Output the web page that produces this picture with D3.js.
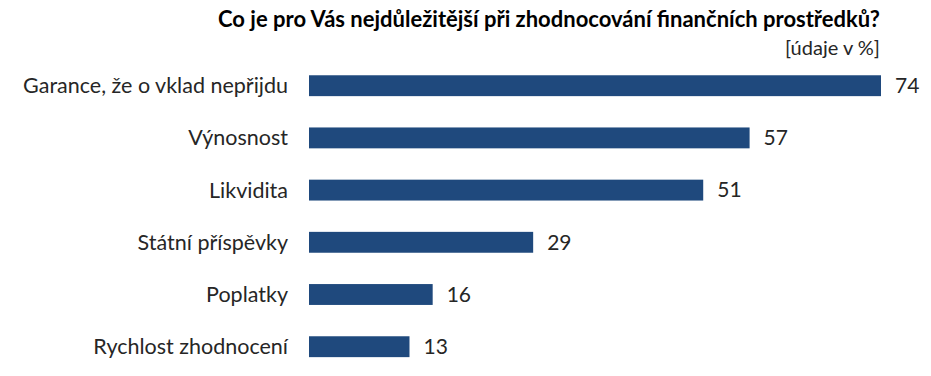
<!DOCTYPE html>
<html>
<head>
<meta charset="utf-8">
<script src="https://d3js.org/d3.v7.min.js"></script>
<style>
  body { margin: 0; background: #fff; }
  text { font-family: Lato, "Open Sans", sans-serif; }
</style>
</head>
<body>
<div id="chart"></div>
<script>
// chart data
var categories = ["Garance, že o vklad nepřijdu", "Výnosnost", "Likvidita",
                  "Státní příspěvky", "Poplatky", "Rychlost zhodnocení"];
var values = [74, 57, 51, 29, 16, 13];
var title = "Co je pro Vás nejdůležitější při zhodnocování finančních prostředků?";
var unitNote = "[údaje v %]";

var w = 931, h = 376;

var svg = d3.select("#chart")
  .append("svg")
  .attr("width", w)
  .attr("height", h);

// x scale: bar start at 309, 74 ends near 881
var x = d3.scaleLinear()
  .domain([0, 74])
  .range([309, 881]);

// y band: centers from ~85.7 to ~346.7
var y = d3.scaleBand()
  .domain(categories)
  .range([59.6, 372.8])
  .paddingInner(0.6)
  .paddingOuter(0.3);

// title
svg.append("text")
  .attr("x", 880)
  .attr("y", 27)
  .attr("text-anchor", "end")
  .attr("font-size", "22px")
  .attr("font-weight", "bold")
  .attr("fill", "#000")
  .text(title);

svg.append("text")
  .attr("x", 880)
  .attr("y", 55)
  .attr("text-anchor", "end")
  .attr("font-size", "20px")
  .attr("fill", "#262626")
  .text(unitNote);

var data = categories.map(function(c, i) { return { cat: c, val: values[i] }; });

// bars
svg.selectAll(".bar")
  .data(data)
  .enter()
  .append("rect")
  .attr("class", "bar")
  .attr("x", x(0))
  .attr("y", function(d) { return y(d.cat); })
  .attr("width", function(d) { return x(d.val) - x(0); })
  .attr("height", y.bandwidth())
  .attr("fill", "#1F497D");

// category labels
svg.selectAll(".cat")
  .data(data)
  .enter()
  .append("text")
  .attr("class", "cat")
  .attr("x", 288)
  .attr("y", function(d) { return y(d.cat) + y.bandwidth() / 2; })
  .attr("dy", ".35em")
  .attr("text-anchor", "end")
  .attr("font-size", "21.5px")
  .attr("fill", "#262626")
  .text(function(d) { return d.cat; });

// value labels
svg.selectAll(".val")
  .data(data)
  .enter()
  .append("text")
  .attr("class", "val")
  .attr("x", function(d) { return x(d.val) + 14; })
  .attr("y", function(d) { return y(d.cat) + y.bandwidth() / 2; })
  .attr("dy", ".35em")
  .attr("text-anchor", "start")
  .attr("font-size", "21px")
  .attr("fill", "#262626")
  .text(function(d) { return d.val; });
</script>
</body>
</html>
